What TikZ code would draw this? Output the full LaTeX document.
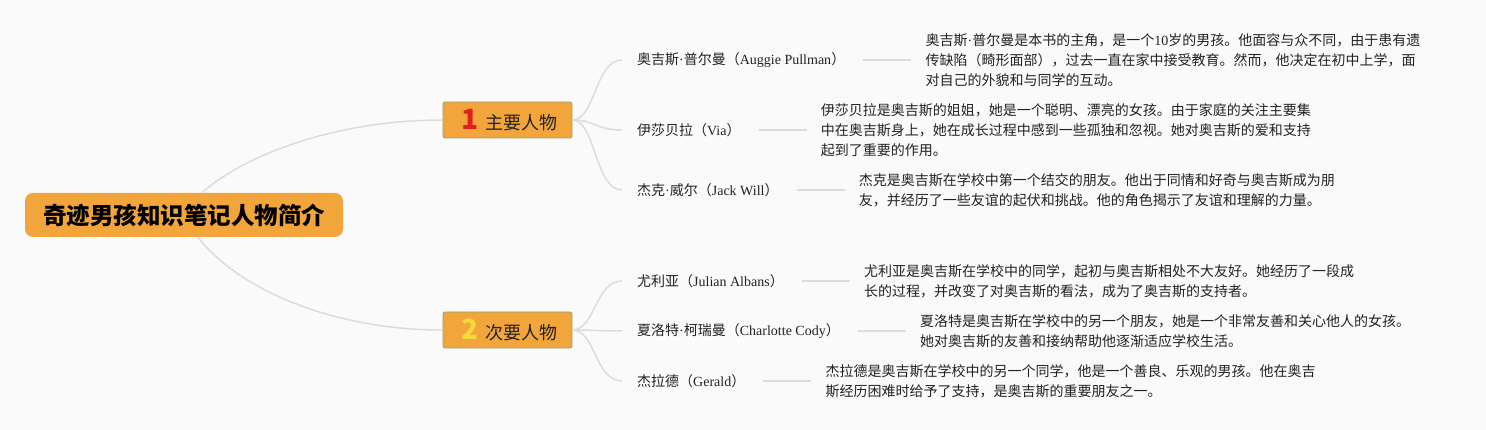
\documentclass[tikz,border=0pt]{standalone}
\usepackage{fontspec}
\usepackage{xcolor}
\setmainfont{Noto Sans CJK SC}
\newfontfamily\latin{Liberation Serif}
\usetikzlibrary{positioning}
\definecolor{page-bg}{HTML}{FAFAFA}
\definecolor{main-orange}{HTML}{F2A53A}
\definecolor{topic-border}{HTML}{95A37A}
\definecolor{link-gray}{HTML}{DCDCDC}
\definecolor{body-text}{HTML}{222222}
\definecolor{num-red}{HTML}{E0201B}
\definecolor{num-yellow}{HTML}{F8D93C}
\newcommand\topicnum[2]{{\fontsize{28}{28}\selectfont\bfseries\color{#1}#2}}
\newcommand\middot{{\latin ·}}
\tikzset{
    root-box/.style = {fill=main-orange, rounded corners=8pt, minimum width=318pt, minimum height=44pt, inner sep=0pt, font=\fontsize{23.5}{28}\selectfont\bfseries, text=black},
    topic-box/.style = {fill=main-orange, draw=topic-border, line width=0.8pt, rounded corners=2pt, minimum width=129pt, minimum height=36pt, inner sep=0pt, font=\fontsize{18}{22}\selectfont, text=body-text},
    name-label/.style = {anchor=west, inner sep=0pt, font=\fontsize{14}{18}\selectfont, text=body-text},
    note-text/.style = {inner sep=0pt, align=left, font=\fontsize{14}{20}\selectfont, text=body-text},
    link/.style = {draw=link-gray, line width=1.5pt},
}

\begin{document}
\begin{tikzpicture}[x=1pt,y=-1pt]
\useasboundingbox[fill=page-bg] (0,0) rectangle (1486,430);

\node [root-box] (root) at (184,215) {奇迹男孩知识笔记人物简介};
\node [topic-box] (main) at (507.5,120) {\hspace{4pt}\topicnum{num-red}{1}\hspace{7pt}主要人物};
\node [topic-box] (minor) at (507.5,330) {\hspace{4pt}\topicnum{num-yellow}{2}\hspace{7pt}次要人物};

\node [name-label] (auggie) at (637,60) {奥吉斯\middot 普尔曼（{\latin Auggie Pullman}）};
\node [name-label] (via) at (637,130) {伊莎贝拉（{\latin Via}）};
\node [name-label] (jack) at (637,190) {杰克\middot 威尔（{\latin Jack Will}）};
\node [name-label] (julian) at (637,281) {尤利亚（{\latin Julian Albans}）};
\node [name-label] (charlotte) at (637,331) {夏洛特\middot 柯瑞曼（{\latin Charlotte Cody}）};
\node [name-label] (gerald) at (637,381) {杰拉德（{\latin Gerald}）};

\node [note-text, right=80pt of auggie] (auggie-note) {奥吉斯\middot 普尔曼是本书的主角，是一个{\latin 10}岁的男孩。他面容与众不同，由于患有遗\\传缺陷（畸形面部），过去一直在家中接受教育。然而，他决定在初中上学，面\\对自己的外貌和与同学的互动。};
\node [note-text, right=80pt of via] (via-note) {伊莎贝拉是奥吉斯的姐姐，她是一个聪明、漂亮的女孩。由于家庭的关注主要集\\中在奥吉斯身上，她在成长过程中感到一些孤独和忽视。她对奥吉斯的爱和支持\\起到了重要的作用。};
\node [note-text, right=80pt of jack] (jack-note) {杰克是奥吉斯在学校中第一个结交的朋友。他出于同情和好奇与奥吉斯成为朋\\友，并经历了一些友谊的起伏和挑战。他的角色揭示了友谊和理解的力量。};
\node [note-text, right=80pt of julian] (julian-note) {尤利亚是奥吉斯在学校中的同学，起初与奥吉斯相处不大友好。她经历了一段成\\长的过程，并改变了对奥吉斯的看法，成为了奥吉斯的支持者。};
\node [note-text, right=80pt of charlotte] (charlotte-note) {夏洛特是奥吉斯在学校中的另一个朋友，她是一个非常友善和关心他人的女孩。\\她对奥吉斯的友善和接纳帮助他逐渐适应学校生活。};
\node [note-text, right=80pt of gerald] (gerald-note) {杰拉德是奥吉斯在学校中的另一个同学，他是一个善良、乐观的男孩。他在奥吉\\斯经历困难时给予了支持，是奥吉斯的重要朋友之一。};

\draw [link] ([xshift=18pt]root.north) .. controls +(40,-36) and +(-110,0) .. (main.west);
\draw [link] ([xshift=14pt]root.south) .. controls +(40,52) and +(-110,0) .. (minor.west);

\draw [link] (main.east) .. controls +(23,0) and +(-27,0) .. ([xshift=-15pt]auggie.west);
\draw [link] (main.east) .. controls +(23,0) and +(-27,0) .. ([xshift=-15pt]via.west);
\draw [link] (main.east) .. controls +(23,0) and +(-27,0) .. ([xshift=-15pt]jack.west);
\draw [link] (minor.east) .. controls +(23,0) and +(-27,0) .. ([xshift=-15pt]julian.west);
\draw [link] (minor.east) .. controls +(23,0) and +(-27,0) .. ([xshift=-15pt]charlotte.west);
\draw [link] (minor.east) .. controls +(23,0) and +(-27,0) .. ([xshift=-15pt]gerald.west);

\draw [link, shorten <=18pt, shorten >=14pt] (auggie) -- (auggie.east -| auggie-note.west);
\draw [link, shorten <=18pt, shorten >=14pt] (via) -- (via.east -| via-note.west);
\draw [link, shorten <=18pt, shorten >=14pt] (jack) -- (jack.east -| jack-note.west);
\draw [link, shorten <=18pt, shorten >=14pt] (julian) -- (julian.east -| julian-note.west);
\draw [link, shorten <=18pt, shorten >=14pt] (charlotte) -- (charlotte.east -| charlotte-note.west);
\draw [link, shorten <=18pt, shorten >=14pt] (gerald) -- (gerald.east -| gerald-note.west);
\end{tikzpicture}
\end{document}
